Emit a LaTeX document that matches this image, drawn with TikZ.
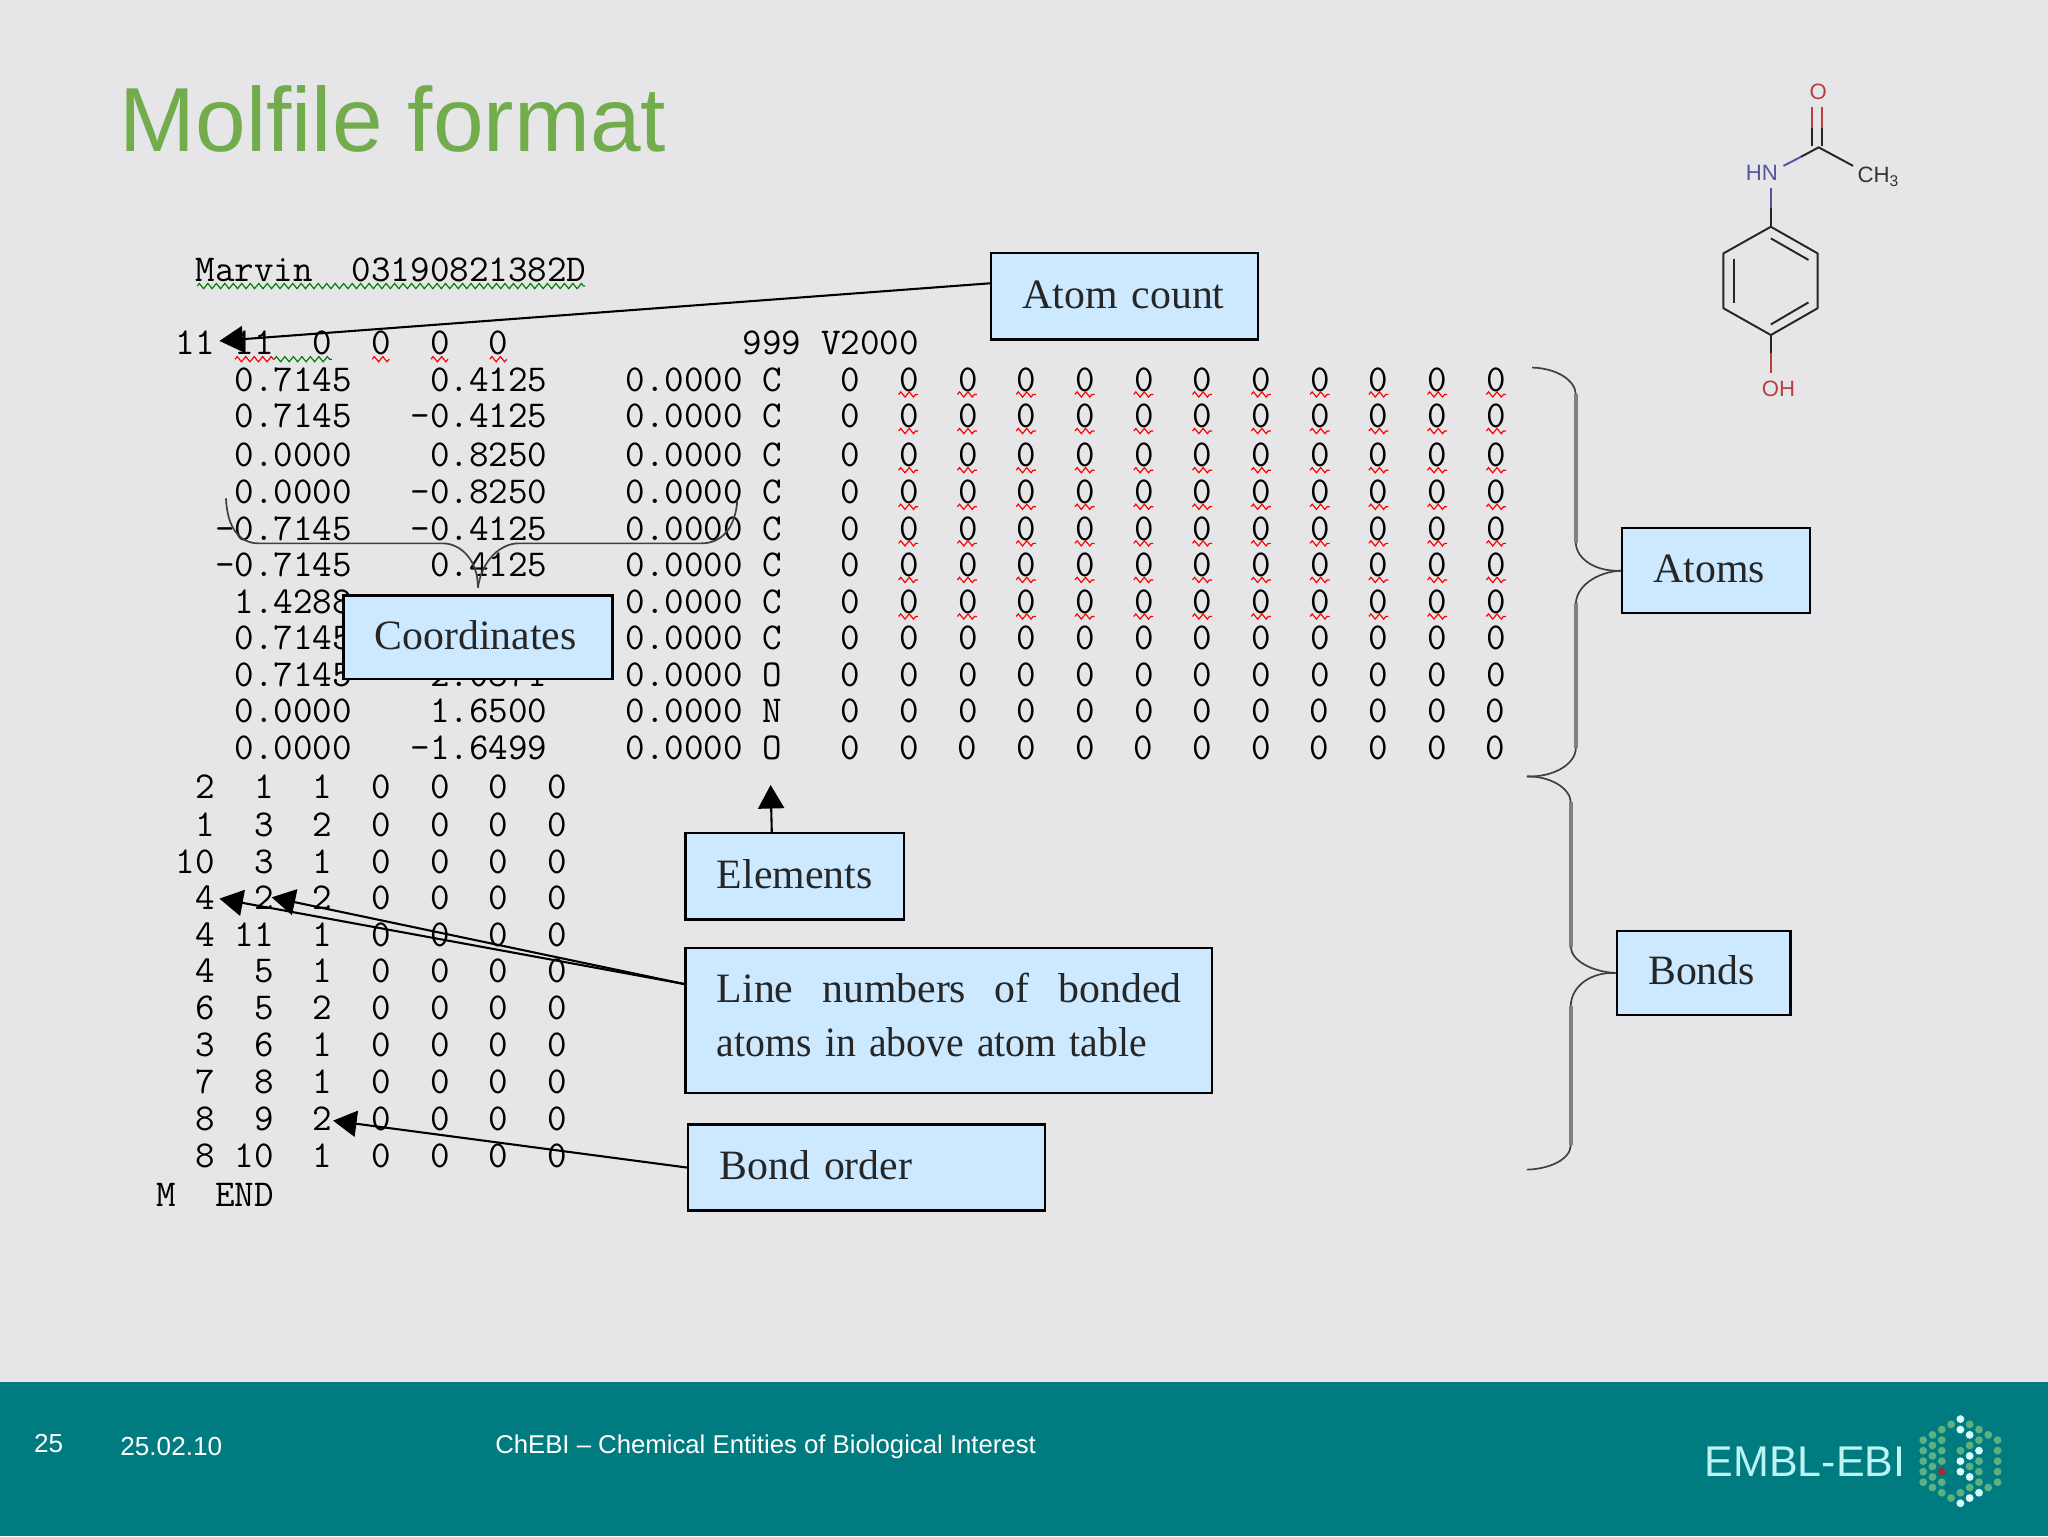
\documentclass[tikz,border=0pt]{standalone}
\usepackage{fontspec}
\setmainfont{Liberation Serif}
\newfontfamily\slidefont{Liberation Sans}
\usetikzlibrary{arrows.meta,decorations.pathmorphing}
\definecolor{slidebg}{HTML}{E6E6E8}
\definecolor{footerteal}{HTML}{007C80}
\definecolor{titlegreen}{HTML}{72AC4D}
\definecolor{boxblue}{HTML}{CCE9FF}
\definecolor{atomred}{HTML}{B84040}
\definecolor{atomblue}{HTML}{55559A}
\definecolor{logogreen}{HTML}{5DB080}
\definecolor{logowhite}{HTML}{D8FBFB}
\definecolor{logotext}{HTML}{BDF3F3}
\newcommand{\zeroruns}{~~~0~~0~~0~~0~~0~~0~~0~~0~~0~~0~~0~~0}
\tikzset{
  tabrow/.style={anchor=base west, inner sep=0pt, font=\ttfamily\fontsize{29.07}{30}\selectfont\addfontfeature{FakeBold=0.5}},
  boxlabel/.style 2 args={draw=black, fill=boxblue, line width=1.8pt, anchor=north west,
    inner xsep=24pt, inner ysep=0pt, text width=#1-48pt, minimum height=#2, align=left,
    text=black!85, text height=23pt, text depth=4.8pt, font=\fontsize{32}{41}\selectfont},
  callout/.style={line width=1.6pt, -{Triangle[length=18pt,width=20pt]}},
  bracket/.style={draw=black!75, line width=1.3pt},
  bracketbar/.style={draw=black!50, line width=2.8pt},
  redwave/.style={draw=red, line width=0.9pt, decorate, decoration={zigzag, segment length=6.5pt, amplitude=2pt}},
  greenwave/.style={draw=green!50!black, line width=0.9pt, decorate, decoration={zigzag, segment length=6.5pt, amplitude=2pt}},
  footertext/.style={anchor=base west, inner sep=0pt, text=white, font=\slidefont\fontsize{20}{24}\selectfont},
  atomlabel/.style={inner sep=0pt, font=\slidefont\fontsize{17}{20}\selectfont},
  bond/.style={line width=1.5pt, black!85}
}
\begin{document}
\begin{tikzpicture}[x=1pt,y=-1pt]
  \useasboundingbox (0,0) rectangle (1568,1176);
  \fill[slidebg] (0,0) rectangle (1568,1176);
  \fill[footerteal] (0,1058) rectangle (1568,1176);
  \node[anchor=base west, inner sep=0pt, text=titlegreen, font=\slidefont\fontsize{69.7}{72}\selectfont] (title) at (91.5,116) {Molfile format};
  % footer
  \node[footertext] (pageno) at (26,1112) {25};
  \node[footertext] (slidedate) at (92,1114) {25.02.10};
  \node[footertext, font=\slidefont\fontsize{19.7}{24}\selectfont] (slidetitle) at (379,1113) {ChEBI – Chemical Entities of Biological Interest};
  \node[anchor=base west, inner sep=0pt, text=logotext, font=\slidefont\fontsize{32.9}{36}\selectfont] (embl) at (1305,1130.5) {EMBL-EBI};
  \foreach \i/\j in {-4/-4,-4/-2,-4/0,-4/2,-4/4,-3/-5,-3/-3,-3/-1,-3/1,-3/3,-3/5,-2/-6,-2/-4,-2/-2,-2/0,-2/4,-2/6,-1/-7,-1/7,0/-2,0/6,1/-7,1/-3,1/1,1/5,2/-6,2/-4,2/0,2/2,2/4,3/-5,3/5,4/-4,4/-2,4/0,4/2,4/4}
    \fill[logogreen] (1500.9+7.12*\i,1118.7+4.03*\j) circle (3);
  \foreach \i/\j in {0/-8,0/-6,0/0,0/2,0/8,1/-5,1/-1,1/3,1/7,2/-2,2/6}
    \fill[logowhite] (1500.9+7.12*\i,1118.7+4.03*\j) circle (3);
  \fill[atomred!80!black] (1500.9-14.24,1118.7+8.06) circle (3);
  % molecule
  \coordinate (r1) at (1355.8,173.6);
  \coordinate (r2) at (1391.6,194);
  \coordinate (r3) at (1391.6,236);
  \coordinate (r4) at (1355.8,256.5);
  \coordinate (r5) at (1319.5,236);
  \coordinate (r6) at (1319.5,194);
  \coordinate (co) at (1392.4,112.8);
  \draw[bond, line join=round] (r1) -- (r2) -- (r3) -- (r4) -- (r5) -- (r6) -- cycle;
  \draw[bond] (1355.8,182.5) -- (1384.6,199);
  \draw[bond] (1327.5,198) -- (1327.5,232);
  \draw[bond] (1355.8,248.4) -- (1384.6,231.5);
  \draw[bond] (r1) -- (1355.8,159);
  \draw[bond, atomblue] (1355.8,159) -- (1355.8,144);
  \draw[bond, atomblue] (1365.5,127) -- (1379,120);
  \draw[bond] (1379,120) -- (co) -- (1418.8,127);
  \draw[bond] (1387.6,112) -- (1387.6,98);
  \draw[bond] (1395.3,112) -- (1395.3,98);
  \draw[bond, atomred] (1387.6,98) -- (1387.6,81.7);
  \draw[bond, atomred] (1395.3,98) -- (1395.3,81.7);
  \draw[bond] (r4) -- (1355.8,270.4);
  \draw[bond, atomred] (1355.8,270.4) -- (1355.8,285.7);
  \node[atomlabel, text=atomblue] (hn) at (1349,132.6) {HN};
  \node[atomlabel, text=atomred] (oxo) at (1392,70) {O};
  \node[atomlabel, text=atomred] (oh) at (1361.6,297.4) {OH};
  \node[atomlabel, anchor=base west, text=black!80] (methyl) at (1422,140) {CH\textsubscript{3}};
  % molfile table
  \foreach \rowy/\rowtext in {
    207/~~Marvin~~03190821382D,
    263/~11~11~~0~~0~~0~~0~~~~~~~~~~~~999~V2000,
    291/~~~~0.7145~~~~0.4125~~~~0.0000~C\zeroruns,
    319/~~~~0.7145~~~-0.4125~~~~0.0000~C\zeroruns,
    349/~~~~0.0000~~~~0.8250~~~~0.0000~C\zeroruns,
    377/~~~~0.0000~~~-0.8250~~~~0.0000~C\zeroruns,
    405/~~~-0.7145~~~-0.4125~~~~0.0000~C\zeroruns,
    433/~~~-0.7145~~~~0.4125~~~~0.0000~C\zeroruns,
    461/~~~~1.4288~~~~~~~~~~~~~~0.0000~C\zeroruns,
    489/~~~~0.7145~~~~~~~~~~~~~~0.0000~C\zeroruns,
    517/~~~~0.7145~~~~2.0871~~~~0.0000~O\zeroruns,
    545/~~~~0.0000~~~~1.6500~~~~0.0000~N\zeroruns,
    573/~~~~0.0000~~~-1.6499~~~~0.0000~O\zeroruns,
    603/~~2~~1~~1~~0~~0~~0~~0,
    632/~~1~~3~~2~~0~~0~~0~~0,
    660/~10~~3~~1~~0~~0~~0~~0,
    688/~~4~~2~~2~~0~~0~~0~~0,
    716/~~4~11~~1~~0~~0~~0~~0,
    744/~~4~~5~~1~~0~~0~~0~~0,
    772/~~6~~5~~2~~0~~0~~0~~0,
    800/~~3~~6~~1~~0~~0~~0~~0,
    829/~~7~~8~~1~~0~~0~~0~~0,
    857/~~8~~9~~2~~0~~0~~0~~0,
    885/~~8~10~~1~~0~~0~~0~~0,
    915/M~~END}
    \node[tabrow] (row\rowy) at (119.5,\rowy+8.5) {\rowtext};
  % spelling marks
  \draw[greenwave] (151,219) -- (448,219);
  \draw[redwave] (180,275) -- (210,275);
  \draw[greenwave] (210,275) -- (254,275);
  \foreach \x in {285,330,375}
    \draw[redwave] (\x,275) -- (\x+13,275);
  \foreach \y in {291,319,349,377,405,433,461}
    \foreach \x in {688,733,778,823,868,913,958,1003,1048,1093,1138}
      \draw[redwave] (\x,\y+11) -- (\x+15,\y+11);
  % boxes
  \node[boxlabel={204pt}{66pt}] (atomcount) at (758,193) {Atom count};
  \node[boxlabel={206pt}{64pt}] (coords) at (262,455) {Coordinates};
  \node[boxlabel={167pt}{66pt}] (elements) at (524,637) {Elements};
  \node[boxlabel={403pt}{111pt}, text depth=50pt] (linenums) at (524,725) {\mbox{Line\hspace{22pt}numbers\hspace{22pt}of\hspace{22pt}bonded}\\\scalebox{.95}[1]{atoms in above atom table}};
  \node[boxlabel={273pt}{66pt}] (bondorder) at (526,860) {Bond order};
  \node[boxlabel={144pt}{65pt}] (atoms) at (1241,403.5) {Atoms};
  \node[boxlabel={133pt}{64pt}] (bonds) at (1237,712) {Bonds};
  % arrows
  \coordinate (counttip) at (168,261);
  \coordinate (elemtip) at (590,601);
  \coordinate (linetipa) at (168,688);
  \coordinate (linetipb) at (208,687);
  \coordinate (ordertip) at (255,858);
  \draw[callout] ([yshift=10pt]atomcount.west) -- (counttip);
  \draw[callout] ([xshift=-17.5pt]elements.north) -- (elemtip);
  \draw[callout] ([yshift=28pt]linenums.west) -- (linetipa);
  \draw[callout] ([yshift=28pt]linenums.west) -- (linetipb);
  \draw[callout] (bondorder.west) -- (ordertip);
  % braces
  \coordinate (coordl) at (173,381.5);
  \coordinate (coordr) at (564.5,383);
  \draw[bracket] (coordl) .. controls (174,405) and (184,416) .. (198,416) -- (339,416)
    .. controls (352,416) and (366,428) .. ([yshift=5pt]coords.north);
  \draw[bracket] (coordr) .. controls (563,405) and (552,416) .. (537,416) -- (397,416)
    .. controls (384,416) and (369,428) .. ([yshift=5pt]coords.north);
  \coordinate (split) at (1169,594.5);
  \coordinate (atomstop) at (1173,281.4);
  \coordinate (bondsend) at (1169,895.5);
  \draw[bracket] (atomstop) .. controls (1192,282) and (1206,291) .. (1206.5,302) -- (1206.5,416)
    .. controls (1207,428) and (1222,438) .. (atoms.west);
  \draw[bracket] (atoms.west) .. controls (1222,438) and (1207,449) .. (1206.5,462) -- (1206.5,573)
    .. controls (1206,585) and (1190,595) .. (split);
  \draw[bracket] (split) .. controls (1186,594) and (1202,603) .. (1202.6,614) -- (1202.6,725)
    .. controls (1203,735) and (1218,744) .. (bonds.west);
  \draw[bracket] (bonds.west) .. controls (1218,744) and (1203,755) .. (1202.6,770) -- (1202.6,877)
    .. controls (1202,888) and (1186,895) .. (bondsend);
  \foreach \x/\ya/\yb in {1206.5/302/416,1206.5/462/573,1202.6/614/725,1202.6/770/877}
    \draw[bracketbar] (\x,\ya) -- (\x,\yb);
\end{tikzpicture}
\end{document}
